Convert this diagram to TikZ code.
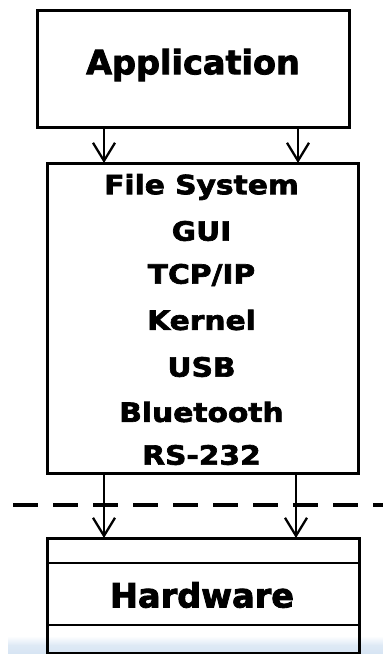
\documentclass[tikz,border=0pt]{standalone}
\usepackage{fontspec}
\setmainfont{DejaVu Sans}[BoldFont={DejaVu Sans Bold},BoldFeatures={FakeBold=2.5}]
\newfontfamily\widefont{DejaVu Sans Bold}[FakeStretch=1.12,FakeBold=2.5]
\usetikzlibrary{arrows.meta}
\definecolor{bandblue}{RGB}{214,228,243}
\begin{document}
\begin{tikzpicture}[x=1pt,y=-1pt,
  box/.style={draw=black,line width=2.6pt,inner sep=0pt,anchor=north west},
  bigtxt/.style={font=\fontsize{33.5}{40}\bfseries,inner sep=0pt},
  midtxt/.style={font=\fontsize{26.5}{32}\widefont,inner sep=0pt},
  arr/.style={line width=2.3pt,-{Straight Barb[length=18pt,width=22pt,line width=2.3pt]}},
  dashline/.style={line width=4.5pt,dash pattern=on 25pt off 15pt}]
\useasboundingbox (0,0) rectangle (383,654);
% light blue band at the bottom
\shade[top color=white,bottom color=bandblue,middle color=bandblue!80] (8,636) rectangle (383,654);
% boxes
\node[box,minimum width=312pt,minimum height=117pt] (app) at (36,9) {};
\node[bigtxt] (apptxt) at (193,65) {Application};
\node[box,minimum width=311pt,minimum height=310pt] (mid) at (46,162) {};
\node[midtxt] (fs) at (201.5,187) {File System};
\node[midtxt] (gui) at (201.5,231) {GUI};
\node[midtxt] (tcp) at (201.5,275) {TCP/IP};
\node[midtxt] (ker) at (201.5,320) {Kernel};
\node[midtxt] (usb) at (201.5,367) {USB};
\node[midtxt] (bt) at (201.5,412) {Bluetooth};
\node[midtxt] (rs) at (201.5,455) {RS-232};
\node[box,minimum width=312pt,minimum height=115pt] (hw) at (46,537) {};
\draw[line width=2.6pt] (hw.west |- 0,563) -- (hw.east |- 0,563);
\draw[line width=2.6pt] (hw.west |- 0,625) -- (hw.east |- 0,625);
\node[bigtxt] (hwtxt) at (202,595) {Hardware};
% dashed boundary
\coordinate (dl) at (13,505);
\coordinate (dr) at (383,505);
\draw[dashline] (dl) -- (dr);
% arrows
\draw[arr] (app.south -| 104,0) -- ([yshift=-1pt]mid.north -| 104,0);
\draw[arr] (app.south -| 298,0) -- ([yshift=-1pt]mid.north -| 298,0);
\draw[arr] (mid.south -| 104,0) -- ([yshift=-1pt]hw.north -| 104,0);
\draw[arr] (mid.south -| 296,0) -- ([yshift=-1pt]hw.north -| 296,0);
\end{tikzpicture}
\end{document}
